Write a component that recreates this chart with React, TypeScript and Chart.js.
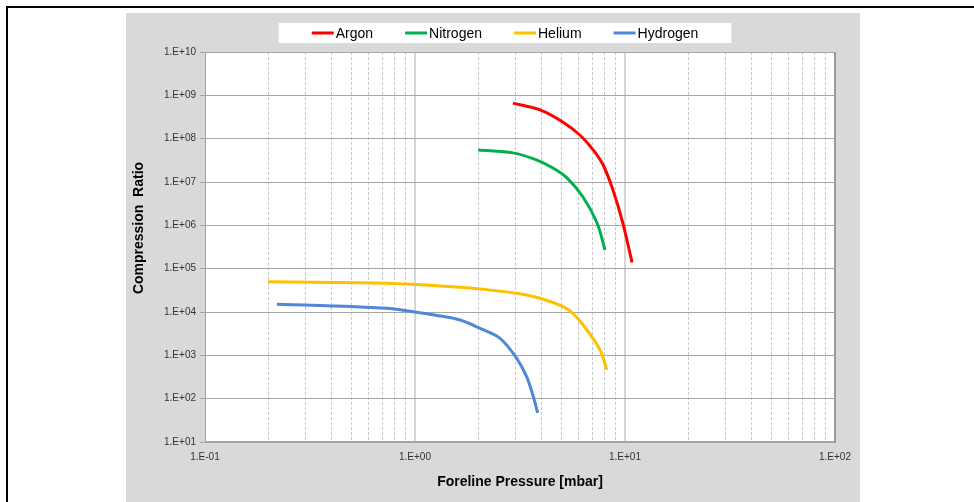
import React, { useEffect, useRef } from 'react';
import { Chart, registerables } from 'chart.js';

Chart.register(...registerables);

// ---- data ----
const seriesNames = ['Argon', 'Nitrogen', 'Helium', 'Hydrogen'];
const seriesColors = ['#ff0000', '#00b050', '#ffc000', '#4f87d9'];

const argonPressure = [2.93, 3.94, 5.07, 6.11, 7.05, 7.86, 8.77, 9.78, 10.8];
const argonRatio = [6.6e8, 4.6e8, 2.4e8, 1.2e8, 5.5e7, 2.5e7, 6.5e6, 1.1e6, 1.4e5];

const nitrogenPressure = [2.0, 2.93, 3.81, 4.56, 5.29, 6.31, 7.36, 8.03];
const nitrogenRatio = [5.5e7, 4.7e7, 3.2e7, 2.07e7, 1.24e7, 4.5e6, 1.13e6, 2.7e5];

const heliumPressure = [0.2, 0.547, 0.916, 1.64, 2.04, 3.06, 3.94, 5.07, 5.65, 6.59, 7.6, 8.2];
const heliumRatio = [5.0e4, 4.74e4, 4.43e4, 3.71e4, 3.39e4, 2.7e4, 2.07e4, 1.33e4, 9.3e3, 3.84e3, 1.33e3, 458];

const hydrogenPressure = [0.22, 0.38, 0.733, 0.913, 1.32, 1.64, 2.04, 2.54, 3.05, 3.4, 3.66, 3.84];
const hydrogenRatio = [1.5e4, 1.4e4, 1.22e4, 1.07e4, 8.07e3, 6.53e3, 4.2e3, 2.47e3, 853, 321, 111, 47];

const xDecades = [0.1, 1, 10, 100];
const xTickLabels = ['1.E-01', '1.E+00', '1.E+01', '1.E+02'];
const xMinorMultipliers = [2, 3, 4, 5, 6, 7, 8, 9];
const yDecades = [1e1, 1e2, 1e3, 1e4, 1e5, 1e6, 1e7, 1e8, 1e9, 1e10];
const yTickLabels = ['1.E+01', '1.E+02', '1.E+03', '1.E+04', '1.E+05', '1.E+06', '1.E+07', '1.E+08', '1.E+09', '1.E+10'];

const xTitle = 'Foreline Pressure [mbar]';
const yTitle = 'Compression  Ratio';

const FONT = '"Liberation Sans", Arial, Helvetica, sans-serif';

const zip = (xs: number[], ys: number[]) => xs.map((x, i) => ({ x, y: ys[i] }));
const seriesPoints = [
  zip(argonPressure, argonRatio),
  zip(nitrogenPressure, nitrogenRatio),
  zip(heliumPressure, heliumRatio),
  zip(hydrogenPressure, hydrogenRatio),
];

const xTickValues: number[] = [];
xDecades.forEach((d, i) => {
  xTickValues.push(d);
  if (i < xDecades.length - 1) xMinorMultipliers.forEach((m) => xTickValues.push(m * d));
});

const isDecade = (v: number) => xDecades.some((d) => Math.abs(d - v) < d * 1e-6);
const labelFor = (v: number, values: number[], labels: string[]) => {
  const i = values.findIndex((d) => Math.abs(d - v) < d * 1e-6);
  return i >= 0 ? labels[i] : '';
};

const decorPlugin = {
  id: 'decor',
  beforeDraw(chart: any) {
    const { ctx, chartArea: a } = chart;
    ctx.save();
    ctx.fillStyle = '#ffffff';
    ctx.fillRect(a.left, a.top, a.right - a.left, a.bottom - a.top);
    ctx.restore();
  },
  afterDraw(chart: any) {
    const { ctx, chartArea: a } = chart;
    ctx.save();
    // plot-area frame
    ctx.strokeStyle = '#a3a3a3';
    ctx.lineWidth = 1;
    ctx.strokeRect(a.left + 0.5, a.top + 0.5, a.right - a.left - 1, a.bottom - a.top - 1);
    ctx.strokeStyle = '#9a9a9a';
    ctx.lineWidth = 2;
    ctx.beginPath();
    ctx.moveTo(a.right, a.top);
    ctx.lineTo(a.right, a.bottom + 1);
    ctx.stroke();

    // legend
    ctx.font = `14px ${FONT}`;
    const lineLen = 22;
    const textGap = 2;
    const itemGap = 32;
    const boxPad = 33;
    const dsets = chart.data.datasets;
    const widths = dsets.map((ds: any) => lineLen + textGap + ctx.measureText(ds.label).width);
    const total = widths.reduce((s: number, w: number) => s + w, 0) + itemGap * (dsets.length - 1);
    const cx = (a.left + a.right) / 2 - 15;
    const cy = a.top - 19;
    let x = cx - total / 2;
    ctx.fillStyle = '#ffffff';
    ctx.fillRect(x - boxPad, cy - 10, total + 2 * boxPad, 20);
    dsets.forEach((ds: any, i: number) => {
      ctx.strokeStyle = ds.borderColor;
      ctx.lineWidth = 3;
      ctx.beginPath();
      ctx.moveTo(x, cy);
      ctx.lineTo(x + lineLen, cy);
      ctx.stroke();
      ctx.fillStyle = '#000000';
      ctx.textAlign = 'left';
      ctx.textBaseline = 'middle';
      ctx.fillText(ds.label, x + lineLen + textGap, cy + 1);
      x += widths[i] + itemGap;
    });

    // axis titles
    ctx.font = `bold 14px ${FONT}`;
    ctx.fillStyle = '#000000';
    ctx.textAlign = 'center';
    ctx.textBaseline = 'middle';
    ctx.fillText(xTitle, (a.left + a.right) / 2, a.bottom + 40);
    ctx.translate(a.left - 66, (a.top + a.bottom) / 2 - 19);
    ctx.rotate(-Math.PI / 2);
    ctx.fillText(yTitle, 0, 0);
    ctx.restore();
  },
};

export default function App() {
  const ref = useRef<HTMLCanvasElement>(null);

  useEffect(() => {
    if (!ref.current) return;
    Chart.defaults.font.family = FONT;
    const chart = new Chart(ref.current, {
      type: 'scatter',
      data: {
        datasets: seriesNames.map((name, i) => ({
          label: name,
          data: seriesPoints[i],
          showLine: true,
          borderColor: seriesColors[i],
          backgroundColor: seriesColors[i],
          borderWidth: 3,
          pointRadius: 0,
          pointHoverRadius: 0,
          tension: 0.35,
          fill: false,
        })),
      },
      options: {
        animation: false,
        responsive: false,
        devicePixelRatio: 1,
        events: [],
        layout: { padding: { top: 39, right: 25, left: 0, bottom: 0 } },
        plugins: {
          legend: { display: false },
          tooltip: { enabled: false },
          title: { display: false },
        },
        scales: {
          x: {
            type: 'logarithmic',
            min: 0.1,
            max: 100,
            position: 'bottom',
            afterBuildTicks: (scale: any) => {
              scale.ticks = xTickValues.map((v) => ({ value: v }));
            },
            afterFit: (scale: any) => {
              scale.height = 60;
            },
            ticks: {
              autoSkip: false,
              maxRotation: 0,
              minRotation: 0,
              padding: 9,
              color: '#333333',
              font: { size: 10 },
              callback: (v: any) => labelFor(Number(v), xDecades, xTickLabels),
            },
            grid: {
              drawTicks: false,
              color: (c: any) => (c.tick && isDecade(c.tick.value) ? '#d6d6d6' : '#c6c6c6'),
              lineWidth: (c: any) => (c.tick && isDecade(c.tick.value) ? 2 : 1),
            },
            border: {
              display: false,
              dash: (c: any) => (c.tick && !isDecade(c.tick.value) ? [3, 2] : []),
            },
          },
          y: {
            type: 'logarithmic',
            min: 10,
            max: 1e10,
            position: 'left',
            afterBuildTicks: (scale: any) => {
              scale.ticks = yDecades.map((v) => ({ value: v }));
            },
            afterFit: (scale: any) => {
              scale.width = 79;
            },
            ticks: {
              autoSkip: false,
              padding: 4,
              color: '#333333',
              font: { size: 10 },
              callback: (v: any) => labelFor(Number(v), yDecades, yTickLabels),
            },
            grid: {
              drawTicks: true,
              tickLength: 5,
              color: '#a6a6a6',
              lineWidth: 1,
            },
            border: { display: false },
          },
        },
      },
      plugins: [decorPlugin],
    } as any);
    return () => chart.destroy();
  }, []);

  return (
    <div
      style={{
        position: 'fixed',
        left: 0,
        top: 0,
        width: 974,
        height: 502,
        background: '#ffffff',
        overflow: 'hidden',
      }}
    >
      <div
        style={{
          position: 'absolute',
          left: 6,
          top: 6,
          width: 1200,
          height: 800,
          border: '2px solid #000000',
        }}
      />
      <div
        style={{
          position: 'absolute',
          left: 126,
          top: 13,
          width: 734,
          height: 489,
          background: '#d9d9d9',
        }}
      >
        <canvas ref={ref} width={734} height={489} style={{ display: 'block', width: 734, height: 489 }} />
      </div>
    </div>
  );
}
